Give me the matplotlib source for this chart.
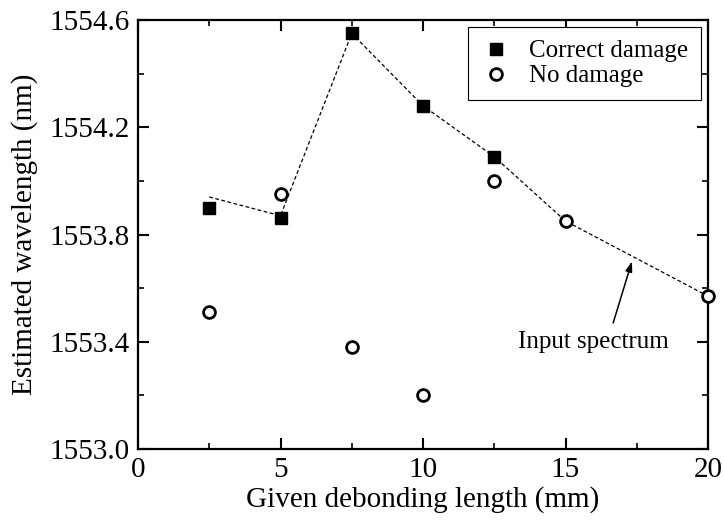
'''
Estimated wavelength vs given debonding length
'''

#imports
import matplotlib
matplotlib.use('Agg')
from matplotlib import pyplot as plt
from matplotlib.ticker import MultipleLocator, FixedLocator

#data
x_correct = [2.5, 5, 7.5, 10, 12.5]
y_correct = [1553.90, 1553.86, 1554.55, 1554.28, 1554.09]

x_nodmg = [2.5, 5, 7.5, 10, 12.5, 15, 20]
y_nodmg = [1553.51, 1553.95, 1553.38, 1553.20, 1554.00, 1553.85, 1553.57]

x_input = [2.5, 5, 7.5, 10, 12.5, 15, 20]
y_input = [1553.94, 1553.87, 1554.55, 1554.28, 1554.09, 1553.85, 1553.57]

y_major = [1553.0, 1553.4, 1553.8, 1554.2, 1554.6]
y_minor = [1553.2, 1553.6, 1554.0, 1554.4]

plt.rcParams['font.family'] = ['Liberation Serif', 'DejaVu Serif']

fig = plt.figure(figsize=(7.24, 5.29), dpi=100)
ax = fig.add_axes([0.1906, 0.1512, 0.7874, 0.8110])

ax.plot(x_input, y_input, color='black', lw=0.9, linestyle=(0, (3, 2)), zorder=2)
ax.plot(x_correct, y_correct, linestyle='none', marker='s', ms=8, color='black',
        label='Correct damage', zorder=3)
ax.plot(x_nodmg, y_nodmg, linestyle='none', marker='o', ms=8.5, mfc='white',
        mec='black', mew=2, label='No damage', zorder=4, clip_on=False)

ax.text(15.96, 1553.40, 'Input spectrum', ha='center', va='center', fontsize=18)
ax.annotate('', xy=(17.33, 1553.70), xytext=(16.67, 1553.47),
            arrowprops=dict(arrowstyle='-|>,head_length=0.6,head_width=0.2',
                            color='black', lw=1.1, shrinkA=0, shrinkB=0))

ax.set_xlim(0, 20)
ax.set_ylim(1553.0, 1554.6)
ax.xaxis.set_major_locator(MultipleLocator(5))
ax.xaxis.set_minor_locator(MultipleLocator(2.5))
ax.yaxis.set_major_locator(FixedLocator(y_major))
ax.yaxis.set_minor_locator(FixedLocator(y_minor))
ax.yaxis.set_major_formatter(plt.FormatStrFormatter('%.1f'))
ax.tick_params(which='both', direction='in', top=True, right=True, labelsize=21)
ax.tick_params(which='major', length=8, width=1.5, pad=6)
ax.tick_params(which='minor', length=4, width=1.2)
for s in ax.spines.values():
    s.set_linewidth(1.6)

ax.set_xlabel('Given debonding length (mm)', fontsize=21, labelpad=2)
ax.set_ylabel('Estimated wavelength (nm)', fontsize=21, labelpad=8)

leg = ax.legend(loc='upper right', fontsize=18, fancybox=False, framealpha=1,
                edgecolor='black', handletextpad=0.65, borderaxespad=0.3,
                borderpad=0.5, labelspacing=0.1, handlelength=1.3)
leg.get_frame().set_linewidth(0.8)

fig.savefig('out.png', dpi=100)
